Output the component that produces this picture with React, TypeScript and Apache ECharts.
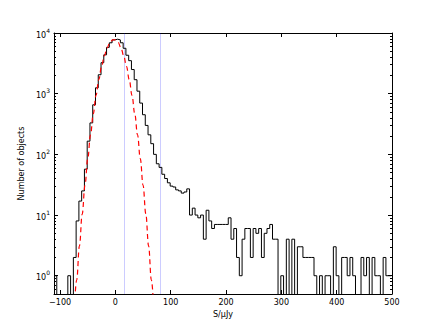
import React, { useEffect, useRef } from 'react';
import * as echarts from 'echarts';

// Histogram: bins of 5 µJy starting at -111
const binStart = -111;
const binWidth = 5;
const counts = [
  1, 0, 0, 0, 0, 1, 0, 2, 8, 17,
  25, 57, 165, 330, 656, 1250, 2050, 3240, 4370, 5800,
  6900, 7700, 7900, 7700, 6900, 5600, 4300, 3500, 2500, 1700,
  1100, 700, 450, 300, 210, 150, 100, 70, 61, 47,
  40, 34, 30, 29, 26, 25, 23, 24, 27, 10,
  13, 10, 9, 10, 4, 12, 8, 6, 7, 7,
  7, 7, 7, 9, 4, 6, 2, 1, 4, 6,
  6, 2, 6, 5, 6, 2, 5, 6, 7, 4,
  4, 0, 1, 0, 4, 0, 4, 0, 3, 3,
  2, 2, 2, 2, 1, 0, 1, 0, 1, 1,
  0, 3, 1, 0, 2, 2, 1, 2, 1, 0,
  0, 2, 1, 2, 0, 2, 1, 1, 0, 2,
  1, 1,
];

// Red dashed model curve
const modelX = [-75, -70, -65, -60, -55, -50, -45, -40, -35, -30, -25, -20, -15, -10, -5, 0, 5, 10, 15, 20, 25, 30, 35, 40, 45, 50, 55, 60, 65, 70];
const modelY = [0.21, 0.85, 3.1, 10.4, 31, 85, 209, 467, 940, 1710, 2830, 4230, 5700, 6970, 7700, 7700, 6970, 5700, 4230, 2830, 1710, 940, 467, 209, 85, 31, 10.4, 3.1, 0.85, 0.21];

// Vertical reference lines
const markerLines = [15.5, 80.5];

const xTicks = [-100, 0, 100, 200, 300, 400, 500];
const yTicks = [1, 10, 100, 1000, 10000];
const yMinorTicks = [
  0.6, 0.7, 0.8, 0.9,
  2, 3, 4, 5, 6, 7, 8, 9,
  20, 30, 40, 50, 60, 70, 80, 90,
  200, 300, 400, 500, 600, 700, 800, 900,
  2000, 3000, 4000, 5000, 6000, 7000, 8000, 9000,
];

export default function App() {
  const ref = useRef<HTMLDivElement>(null);
  useEffect(() => {
    if (!ref.current) return;
    const chart = echarts.init(ref.current, undefined, { renderer: 'svg' });
    const font = 'DejaVu Sans';
    const histData: [number, number][] = counts.map((c, k) => [binStart + k * binWidth, c > 0 ? c : 0.01]);
    const lastC = counts[counts.length - 1];
    histData.push([binStart + counts.length * binWidth, lastC > 0 ? lastC : 0.01]);
    const modelData = modelX.map((x, i) => [x, modelY[i]]);

    const frame = { show: true, onZero: false, lineStyle: { color: '#000', width: 1 } };
    const yMajorBase = (position: 'left' | 'right', labels: boolean) => ({
      type: 'log' as const,
      logBase: 10,
      min: 0.5,
      max: 10000,
      position,
      axisLine: frame,
      axisTick: { show: true, inside: true, length: 4, customValues: yTicks, lineStyle: { color: '#000', width: 1 } },
      axisLabel: labels
        ? {
            show: true,
            customValues: yTicks,
            margin: 4,
            formatter: (v: number) => '{a|10}{b|' + Math.round(Math.log10(v)) + '}',
            rich: {
              a: { fontFamily: font, fontSize: 8, color: '#000', verticalAlign: 'bottom', lineHeight: 12 },
              b: { fontFamily: font, fontSize: 6, color: '#000', verticalAlign: 'top' },
            },
          }
        : { show: false },
      splitLine: { show: false },
      minorTick: { show: false },
    });
    const yMinor = (position: 'left' | 'right') => ({
      type: 'log' as const,
      logBase: 10,
      min: 0.5,
      max: 10000,
      position,
      axisLine: { show: false, onZero: false },
      axisTick: { show: true, inside: true, length: 2, customValues: yMinorTicks, lineStyle: { color: '#000', width: 1 } },
      axisLabel: { show: false },
      splitLine: { show: false },
    });
    const xAxisBase = (position: 'bottom' | 'top', labels: boolean) => ({
      type: 'value' as const,
      min: -111,
      max: 500,
      position,
      axisLine: frame,
      axisTick: { show: true, inside: true, length: 4, customValues: xTicks, lineStyle: { color: '#000', width: 1 } },
      axisLabel: labels
        ? {
            show: true,
            customValues: xTicks,
            fontFamily: font,
            fontSize: 8,
            color: '#000',
            margin: 4,
            formatter: (v: number) => (v < 0 ? '\u2212' + Math.abs(v) : String(v)),
          }
        : { show: false },
      splitLine: { show: false },
    });

    chart.setOption({
      animation: false,
      backgroundColor: '#fff',
      grid: { left: 54, right: 44, top: 33, bottom: 33, containLabel: false, outerBoundsMode: 'none' },
      xAxis: [
        {
          ...xAxisBase('bottom', true),
          name: 'S/\u03bcJy',
          nameLocation: 'middle',
          nameGap: 15,
          nameTextStyle: { fontFamily: font, fontSize: 8, color: '#000' },
        },
        xAxisBase('top', false),
      ],
      yAxis: [
        {
          ...yMajorBase('left', true),
          name: 'Number of objects',
          nameLocation: 'middle',
          nameGap: 25,
          nameRotate: 90,
          nameTextStyle: { fontFamily: font, fontSize: 8, color: '#000' },
        },
        yMajorBase('right', false),
        yMinor('left'),
        yMinor('right'),
      ],
      series: [
        {
          type: 'line',
          name: 'histogram',
          data: histData,
          step: 'end',
          symbol: 'none',
          clip: true,
          xAxisIndex: 0,
          yAxisIndex: 0,
          lineStyle: { color: '#000', width: 1 },
          z: 3,
          markLine: {
            silent: true,
            symbol: ['none', 'none'],
            label: { show: false },
            lineStyle: { color: 'rgba(0,0,255,0.2)', type: 'solid', width: 1 },
            data: markerLines.map((x) => ({ xAxis: x })),
            z: 1,
          },
        },
        {
          type: 'line',
          name: 'model',
          data: modelData,
          smooth: 0.4,
          smoothMonotone: 'x',
          symbol: 'none',
          clip: true,
          xAxisIndex: 0,
          yAxisIndex: 0,
          lineStyle: { color: '#ff0000', width: 1.2, type: [5, 3.5] },
          z: 4,
        },
      ],
    });
    return () => chart.dispose();
  }, []);
  return <div ref={ref} style={{ position: 'fixed', left: 0, top: 0, width: 436, height: 327 }} />;
}
